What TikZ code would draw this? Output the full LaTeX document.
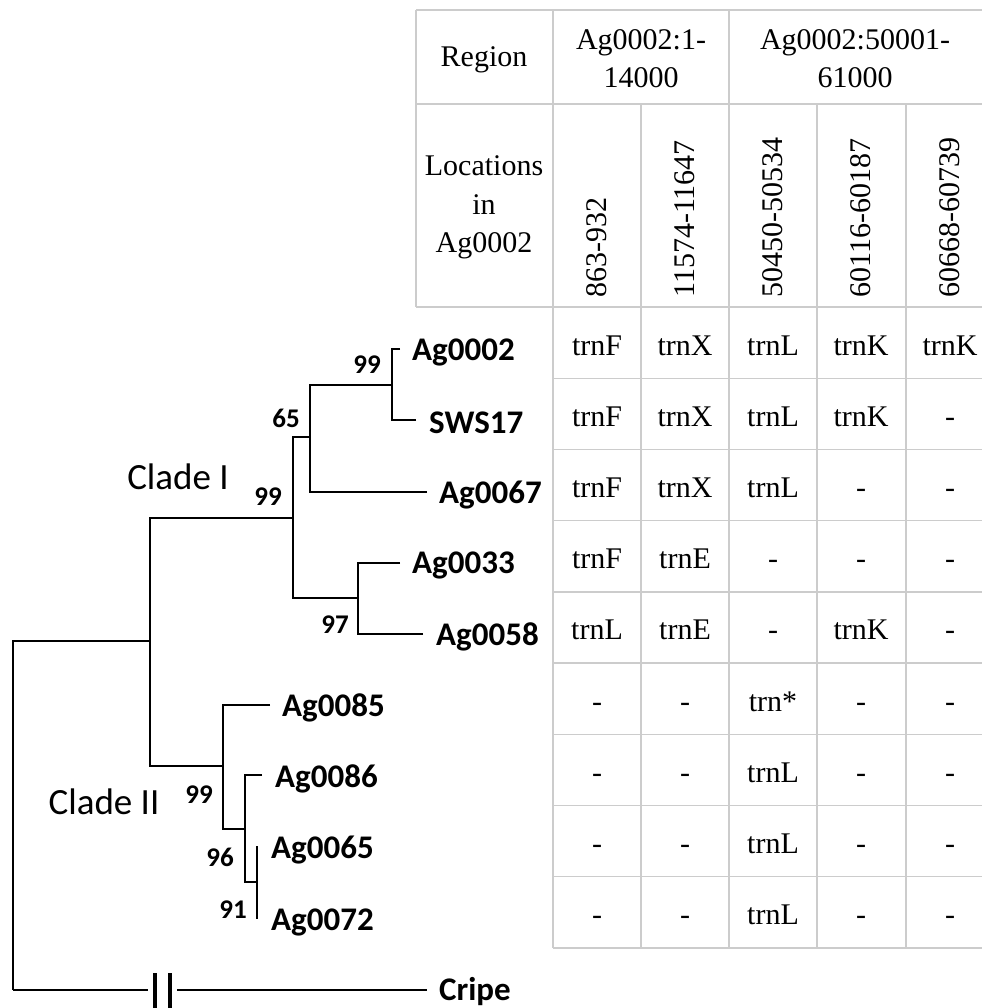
\documentclass[tikz,border=0pt]{standalone}
\usepackage{fontspec}
\setmainfont{Liberation Serif}
\newfontfamily\treefont{Carlito}
\tikzset{
  tabtext/.style={font=\fontsize{30}{38.5}\selectfont, inner sep=0pt, align=center},
  cell/.style={font=\fontsize{30}{36}\selectfont, inner sep=0pt, anchor=base},
  rotnum/.style={font=\fontsize{30}{36}\selectfont, inner sep=0pt, rotate=90, anchor=west},
  taxon/.style={font=\treefont\bfseries\fontsize{33}{36}\selectfont, anchor=west, inner sep=0pt},
  boot/.style={font=\treefont\bfseries\fontsize{27}{30}\selectfont, inner sep=0pt},
  clade/.style={font=\treefont\fontsize{37}{40}\selectfont, inner sep=0pt},
  branch/.style={line width=2.6pt},
  thinbranch/.style={line width=2pt},
  gridline/.style={draw=black!20, line width=1.4pt},
  cutbar/.style={line width=3.6pt}
}
\begin{document}
\begin{tikzpicture}[x=1pt,y=-1pt]
\useasboundingbox (0,0) rectangle (982,1008);

% ---------------- table grid ----------------
\draw[gridline] (416,10) -- (982,10);
\draw[gridline] (416,104) -- (982,104);
\draw[gridline] (416,307) -- (982,307);
\draw[gridline] (416,10) -- (416,307);
\draw[gridline] (553,10) -- (553,948);
\draw[gridline] (729,10) -- (729,948);
\foreach \x in {641,817,906} {\draw[gridline] (\x,104) -- (\x,948);}
\foreach \i in {1,...,9} {\draw[gridline] (553,{307+71.2*\i}) -- (982,{307+71.2*\i});}

% ---------------- table header ----------------
\node[tabtext] (hregion) at (484,60) {Region};
\node[tabtext] (hreg1) at (641,58.5) {Ag0002:1-\\14000};
\node[tabtext] (hreg2) at (855,58.5) {Ag0002:50001-\\61000};
\node[tabtext] (hloc) at (484,207.5) {Locations\\in\\Ag0002};
\node[rotnum] (hc1) at (597,298) {863-932};
\node[rotnum] (hc2) at (685,298) {11574-11647};
\node[rotnum] (hc3) at (773,298) {50450-50534};
\node[rotnum] (hc4) at (861,298) {60116-60187};
\node[rotnum] (hc5) at (950,298) {60668-60739};

% ---------------- table body ----------------
\foreach \a/\b/\c/\d/\e [count=\i from 0] in {
  trnF/trnX/trnL/trnK/trnK,
  trnF/trnX/trnL/trnK/-,
  trnF/trnX/trnL/-/-,
  trnF/trnE/-/-/-,
  trnL/trnE/-/trnK/-,
  -/-/trn*/-/-,
  -/-/trnL/-/-,
  -/-/trnL/-/-,
  -/-/trnL/-/-} {
  \pgfmathsetmacro\yy{307+71.2*(\i+0.5)+12.5}
  \node[cell] (r\i c1) at (597,\yy) {\a};
  \node[cell] (r\i c2) at (685,\yy) {\b};
  \node[cell] (r\i c3) at (773,\yy) {\c};
  \node[cell] (r\i c4) at (861,\yy) {\d};
  \node[cell] (r\i c5) at (950,\yy) {\e};
}

% ---------------- tree: tips and internal nodes ----------------
\coordinate (tAg0002) at (400,349);
\coordinate (tSWS17) at (416,420);
\coordinate (tAg0067) at (427,492);
\coordinate (tAg0033) at (400,563);
\coordinate (tAg0058) at (423,634);
\coordinate (tAg0085) at (270,705);
\coordinate (tAg0086) at (262,775);
\coordinate (tAg0065) at (257,846);
\coordinate (tAg0072) at (257,919);
\coordinate (tCripe) at (427,990);
\coordinate (nA) at (392,385);
\coordinate (nB) at (310,437);
\coordinate (nC) at (293,518);
\coordinate (nD) at (358,598);
\coordinate (nE) at (150,641);
\coordinate (nF) at (223,766);
\coordinate (nG) at (245,829);
\coordinate (nH) at (257,882);
\coordinate (root) at (13,990);
\coordinate (cutL) at (148,990);
\coordinate (cutR) at (177,990);
\coordinate (barAtop) at (155,973);
\coordinate (barAbot) at (155,1008);
\coordinate (barBtop) at (170,973);
\coordinate (barBbot) at (170,1008);

\draw[branch] (tAg0002) -| (nA);
\draw[branch] (tSWS17) -| (nA);
\draw[branch] (nA) -| (nB);
\draw[branch] (tAg0067) -| (nB);
\draw[branch] (nB) -| (nC);
\draw[branch] (nD) -| (nC);
\draw[branch] (tAg0033) -| (nD);
\draw[branch] (tAg0058) -| (nD);
\draw[branch] (nC) -| (nE);
\draw[branch] (nF) -| (nE);
\draw[branch] (tAg0085) -| (nF);
\draw[branch] (nG) -| (nF);
\draw[branch] (tAg0086) -| (nG);
\draw[branch] (nH) -| (nG);
\draw[thinbranch] (tAg0065) -- (tAg0072);
\draw[branch] (nE) -| (root);
\draw[branch] (root) -- (cutL);
\draw[branch] (cutR) -- (tCripe);
\draw[cutbar] (barAtop) -- (barAbot);
\draw[cutbar] (barBtop) -- (barBbot);

% ---------------- taxon labels ----------------
\node[taxon] (lAg0002) at (412,352) {Ag0002};
\node[taxon] (lSWS17) at (429,423) {SWS17};
\node[taxon] (lAg0067) at (439,495) {Ag0067};
\node[taxon] (lAg0033) at (412,565) {Ag0033};
\node[taxon] (lAg0058) at (436,637) {Ag0058};
\node[taxon] (lAg0085) at (282,708) {Ag0085};
\node[taxon] (lAg0086) at (275,779) {Ag0086};
\node[taxon] (lAg0065) at (271,850) {Ag0065};
\node[taxon] (lAg0072) at (271,922) {Ag0072};
\node[taxon] (lCripe) at (439,992) {Cripe};

% ---------------- support values and clade names ----------------
\node[boot] (bA) at (367,365) {99};
\node[boot] (bB) at (286,418) {65};
\node[boot] (bC) at (268,497) {99};
\node[boot] (bD) at (335,625) {97};
\node[boot] (bF) at (199,795) {99};
\node[boot] (bG) at (220,857) {96};
\node[boot] (bH) at (233,910) {91};
\node[clade] (cI) at (178,477) {Clade I};
\node[clade] (cII) at (104,802) {Clade II};
\end{tikzpicture}
\end{document}
